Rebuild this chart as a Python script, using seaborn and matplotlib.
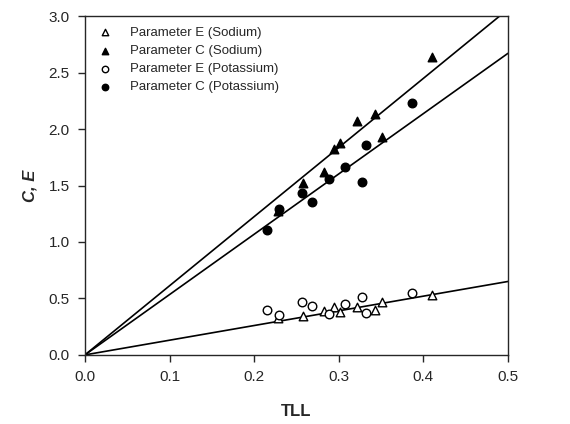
import numpy as np
import pandas as pd
import matplotlib
matplotlib.use("Agg")
import matplotlib.pyplot as plt
import seaborn as sns

# values
tll_na = [0.228, 0.258, 0.283, 0.295, 0.302, 0.322, 0.343, 0.351, 0.410]
c_na = [1.27, 1.52, 1.62, 1.82, 1.88, 2.07, 2.13, 1.93, 2.64]
e_na = [0.33, 0.34, 0.39, 0.42, 0.38, 0.42, 0.40, 0.47, 0.53]

tll_k = [0.215, 0.230, 0.257, 0.268, 0.288, 0.307, 0.328, 0.332, 0.387]
c_k = [1.11, 1.29, 1.43, 1.35, 1.56, 1.66, 1.53, 1.86, 2.23]
e_k = [0.40, 0.35, 0.47, 0.43, 0.36, 0.45, 0.51, 0.37, 0.55]

# slopes of the fitted lines through the origin
slope_c_na = 6.12
slope_c_k = 5.34
slope_e = 1.30

sns.set_style("ticks")
plt.rcParams["font.family"] = ["Liberation Sans", "DejaVu Sans"]

fig = plt.figure(figsize=(5.7, 4.24), dpi=100)
ax = fig.add_axes([0.149, 0.163, 0.742, 0.799])

series = [
    ("Parameter E (Sodium)", tll_na, e_na, "^", "white"),
    ("Parameter C (Sodium)", tll_na, c_na, "^", "black"),
    ("Parameter E (Potassium)", tll_k, e_k, "o", "white"),
    ("Parameter C (Potassium)", tll_k, c_k, "o", "black"),
]

# regression lines
x_line = np.linspace(0, 0.5, 50)
for slope in [slope_c_na, slope_c_k, slope_e]:
    sns.lineplot(x=x_line, y=slope * x_line, ax=ax, color="black", lw=1.2, zorder=1)

for label, xs, ys, mk, fc in series:
    df = pd.DataFrame({"TLL": xs, "val": ys})
    sns.scatterplot(data=df, x="TLL", y="val", ax=ax, marker=mk, s=38,
                    facecolor=fc, edgecolor="black", linewidth=1.0,
                    label=label, zorder=3)

ax.set_xlim(0, 0.5)
ax.set_ylim(0, 3.0)
ax.set_xticks(np.arange(0, 0.51, 0.1))
ax.set_yticks(np.arange(0, 3.01, 0.5))
ax.xaxis.set_major_formatter(plt.FormatStrFormatter("%.1f"))
ax.yaxis.set_major_formatter(plt.FormatStrFormatter("%.1f"))
ax.tick_params(direction="out", length=5, width=1, labelsize=11, pad=6)
for sp in ax.spines.values():
    sp.set_visible(True)
    sp.set_linewidth(1.0)

ax.set_xlabel("TLL", fontsize=12, fontweight="bold", labelpad=14)
ax.set_ylabel("C, E", fontsize=12, fontweight="bold", fontstyle="italic", labelpad=8)

leg = ax.legend(loc="upper left", frameon=False, fontsize=9.5,
                handletextpad=1.1, borderaxespad=0.4, labelspacing=0.45,
                markerscale=0.75, handlelength=1.5, borderpad=0.4)

fig.savefig("out.png", dpi=100)
